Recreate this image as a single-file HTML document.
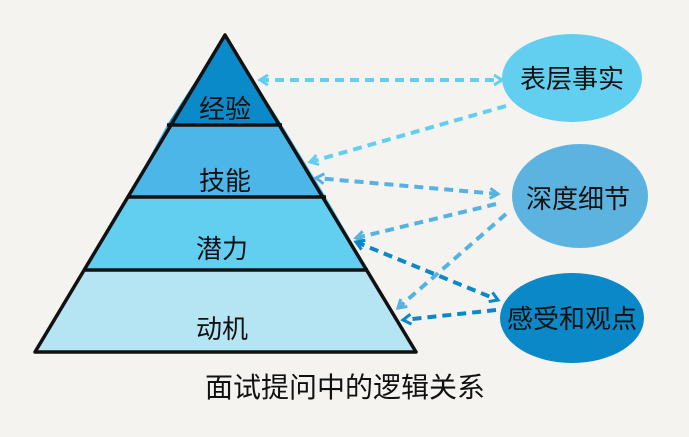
<!DOCTYPE html>
<html><head><meta charset="utf-8"><style>
html,body{margin:0;padding:0;background:#f4f3f0;}
svg{display:block}
text{font-family:"Liberation Sans","Noto Sans CJK SC",sans-serif;fill:#111;}
</style></head><body>
<svg width="689" height="437" viewBox="0 0 689 437" xmlns="http://www.w3.org/2000/svg">
<defs>
<marker id="a1" markerUnits="userSpaceOnUse" markerWidth="14" markerHeight="14" refX="11" refY="7" orient="auto-start-reverse"><path d="M3,2 L11,7 L3,12" fill="none" stroke="#62cff0" stroke-width="3"/></marker>
<marker id="a2" markerUnits="userSpaceOnUse" markerWidth="14" markerHeight="14" refX="11" refY="7" orient="auto-start-reverse"><path d="M3,2 L11,7 L3,12" fill="none" stroke="#55b3e3" stroke-width="3"/></marker>
<marker id="a3" markerUnits="userSpaceOnUse" markerWidth="14" markerHeight="14" refX="11" refY="7" orient="auto-start-reverse"><path d="M3,2 L11,7 L3,12" fill="none" stroke="#0a88c8" stroke-width="3"/></marker>
</defs>
<polygon points="225,35 167,125 282,125" fill="#0a8ac8"/>
<polygon points="167,125 282,125 326,197 128,197" fill="#4db6e8"/>
<polygon points="128,197 326,197 368,270 85,270" fill="#62cff0"/>
<polygon points="85,270 368,270 416,352 35,352" fill="#b5e4f3"/>
<g stroke="#111" stroke-width="3.5" fill="none">
<polygon points="225,35 416,352 35,352" stroke-linejoin="round"/>
<line x1="167" y1="125" x2="282" y2="125"/>
<line x1="128" y1="197" x2="326" y2="197"/>
<line x1="85" y1="270" x2="368" y2="270"/>
</g>
<text x="225" y="118" font-size="26" text-anchor="middle">经验</text>
<text x="225" y="190" font-size="26" text-anchor="middle">技能</text>
<text x="222" y="258" font-size="26" text-anchor="middle">潜力</text>
<text x="222" y="338" font-size="26" text-anchor="middle">动机</text>
<ellipse cx="572" cy="78" rx="70" ry="44" fill="#62cff0"/>
<ellipse cx="580" cy="196" rx="68" ry="52" fill="#5db3e0"/>
<ellipse cx="572" cy="318" rx="72" ry="45" fill="#0a88c8"/>
<text x="572" y="88" font-size="26" text-anchor="middle">表层事实</text>
<text x="578" y="208" font-size="26" text-anchor="middle">深度细节</text>
<text x="572" y="328" font-size="26" text-anchor="middle">感受和观点</text>
<g fill="none" stroke-width="4" stroke-dasharray="9,6">
<line x1="260" y1="80" x2="502" y2="80" stroke="#62cff0" marker-start="url(#a1)" marker-end="url(#a1)"/>
<line x1="506" y1="106" x2="310" y2="162" stroke="#62cff0" marker-end="url(#a1)"/>
<line x1="498" y1="194" x2="316" y2="178" stroke="#55b3e3" marker-end="url(#a2)" marker-start="url(#a2)"/>
<line x1="496" y1="204" x2="356" y2="238" stroke="#55b3e3" marker-end="url(#a2)"/>
<line x1="506" y1="214" x2="398" y2="308" stroke="#55b3e3" marker-end="url(#a2)"/>
<line x1="356" y1="242" x2="498" y2="300" stroke="#0a88c8" marker-start="url(#a3)" marker-end="url(#a3)"/>
<line x1="496" y1="310" x2="403" y2="320" stroke="#0a88c8" marker-end="url(#a3)"/>
</g>
<text x="345" y="397" font-size="28" text-anchor="middle">面试提问中的逻辑关系</text>
</svg>
</body></html>
